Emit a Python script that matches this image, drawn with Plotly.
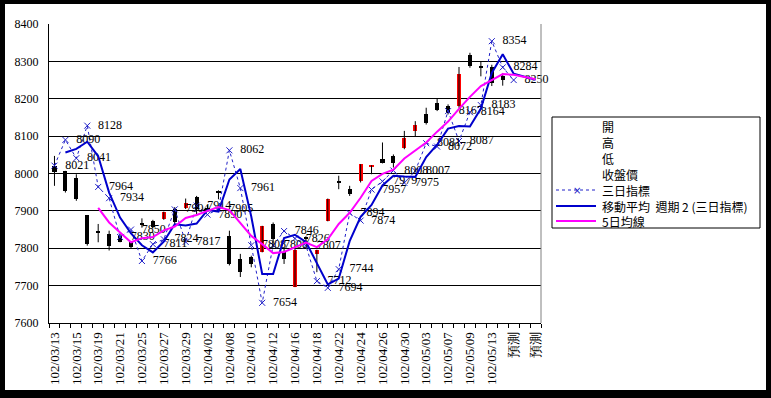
import plotly.graph_objects as go

dates = ["102/03/13", "102/03/14", "102/03/15", "102/03/18", "102/03/19", "102/03/20",
         "102/03/21", "102/03/22", "102/03/25", "102/03/26", "102/03/27", "102/03/28",
         "102/03/29", "102/04/01", "102/04/02", "102/04/03", "102/04/08", "102/04/09",
         "102/04/10", "102/04/11", "102/04/12", "102/04/15", "102/04/16", "102/04/17",
         "102/04/18", "102/04/19", "102/04/22", "102/04/23", "102/04/24", "102/04/25",
         "102/04/26", "102/04/29", "102/04/30", "102/05/02", "102/05/03", "102/05/06",
         "102/05/07", "102/05/08", "102/05/09", "102/05/10", "102/05/13", "102/05/14",
         "預測", "預測", "預測"]

open_ = [8020, 8007, 7989, 7889, 7845, 7838, 7834, 7816, 7867, 7874, 7878, 7905, 7909, 7936,
         7908, 7952, 7834, 7771, 7776, 7789, 7865, 7789, 7696, 7828, 7785, 7874, 7980, 7958,
         7980, 8019, 8038, 8047, 8069, 8114, 8158, 8189, 8180, 8180, 8318, 8287, 8285, 8260]
high = [8047, 8007, 7998, 7889, 7865, 7847, 7838, 7818, 7880, 7876, 7898, 7910, 7933, 7940,
        7915, 7955, 7847, 7785, 7780, 7860, 7869, 7798, 7798, 7832, 7796, 7933, 7994, 7967,
        8025, 8022, 8083, 8051, 8114, 8140, 8176, 8200, 8185, 8285, 8323, 8300, 8291, 8269]
low = [7967, 7949, 7927, 7807, 7816, 7794, 7816, 7800, 7855, 7853, 7876, 7865, 7905, 7891,
       7898, 7931, 7754, 7723, 7749, 7789, 7803, 7758, 7696, 7820, 7736, 7872, 7958, 7940,
       7976, 7998, 8027, 8016, 8065, 8099, 8131, 8167, 8158, 8176, 8283, 8260, 8234, 8235]
close = [8003, 7954, 7931, 7811, 7842, 7807, 7818, 7803, 7863, 7856, 7896, 7869, 7920, 7905,
         7903, 7948, 7758, 7736, 7758, 7859, 7825, 7771, 7795, 7825, 7794, 7931, 7976, 7945,
         8025, 8022, 8027, 8029, 8096, 8129, 8136, 8171, 8163, 8267, 8287, 8283, 8243, 8251]

three_day = [8021, 8090, 8041, 8128, 7964, 7934, 7830, 7850, 7766, 7811, 7824, 7904, 7817,
             7914, 7890, 7905, 8062, 7961, 7808, 7654, 7808, 7846, 7826, 7807, 7712, 7694,
             7744, 7894, 7874, 7957, 7979, 8008, 7975, 8007, 8081, 8072, 8167, 8087, 8164,
             8183, 8354, 8284, 8250]

ma2 = [None, 8056, 8066, 8085, 8046, 7949, 7882, 7840, 7808, 7789, 7818, 7864, 7861, 7866,
       7902, 7898, 7984, 8012, 7885, 7731, 7731, 7827, 7836, 7817, 7760, 7703, 7719, 7819,
       7884, 7916, 7968, 7994, 7992, 7991, 8044, 8077, 8120, 8127, 8126, 8174, 8269, 8319,
       8267, 8258, 8251]

ma5 = [None, None, None, None, 7908, 7869, 7842, 7816, 7827, 7830, 7848, 7858, 7881, 7889,
       7900, 7910, 7902, 7866, 7833, 7811, 7787, 7790, 7802, 7815, 7803, 7824, 7865, 7895,
       7935, 7980, 7999, 8010, 8040, 8061, 8083, 8112, 8139, 8173, 8205, 8234, 8249, 8266,
       8264, 8259, 8252]

y_ticks = [7600, 7700, 7800, 7900, 8000, 8100, 8200, 8300, 8400]

legend_names = ["開", "高", "低", "收盤價", "三日指標", "移動平均  週期 2 (三日指標)", "5日均線"]

DOT_BLUE = "#2020C8"
MA_BLUE = "#0000CC"
MAGENTA = "#FF00FF"

idx = list(range(len(dates)))
n_c = len(close)

fig = go.Figure()

# wicks
wx, wy = [], []
for i in range(n_c):
    wx += [idx[i], idx[i], None]
    wy += [low[i], high[i], None]
fig.add_trace(go.Scatter(x=wx, y=wy, mode="lines", line=dict(color="black", width=1),
                         showlegend=False, hoverinfo="skip"))

# bodies
base = [min(o, c) for o, c in zip(open_, close)]
hgt = [abs(c - o) for o, c in zip(open_, close)]
cols = ["#FF0000" if c > o else "#000000" for o, c in zip(open_, close)]
fig.add_trace(go.Bar(x=idx[:n_c], y=hgt, base=base, width=0.38,
                     marker=dict(color=cols, line=dict(width=0)),
                     showlegend=False, hoverinfo="skip"))

fig.add_trace(go.Scatter(x=idx[:len(three_day)], y=three_day, mode="lines+markers+text",
                         name=legend_names[4], cliponaxis=False,
                         line=dict(color=DOT_BLUE, width=1, dash="dot"),
                         marker=dict(symbol="x-thin", size=6,
                                     line=dict(width=1, color=DOT_BLUE), color=DOT_BLUE),
                         text=["\u00a0\u00a0" + str(v) for v in three_day],
                         textposition="middle right",
                         textfont=dict(family="Liberation Serif", size=12, color="black")))

fig.add_trace(go.Scatter(x=idx, y=ma2, mode="lines", name=legend_names[5],
                         line=dict(color=MA_BLUE, width=2)))

fig.add_trace(go.Scatter(x=idx, y=ma5, mode="lines", name=legend_names[6],
                         line=dict(color=MAGENTA, width=2)))

# layout geometry
L, R, T, B = 49, 230, 24, 75
W, H = 771, 398
pw, ph = W - L - R, H - T - B


def px2x(p):
    return (p - L) / pw


def py2y(p):
    return (H - B - p) / ph


shapes = []
shapes.append(dict(type="rect", xref="paper", yref="paper",
                   x0=px2x(5), x1=px2x(766), y0=py2y(390), y1=py2y(4),
                   fillcolor="white", line=dict(width=0), layer="below"))
shapes.append(dict(type="line", xref="paper", yref="paper", x0=1, x1=1, y0=0, y1=1,
                   line=dict(color="#808080", width=1)))

# custom legend box
lx0, lx1, ly0, ly1 = 552, 760, 117, 228
shapes.append(dict(type="rect", xref="paper", yref="paper",
                   x0=px2x(lx0), x1=px2x(lx1), y0=py2y(ly1), y1=py2y(ly0),
                   fillcolor="white", line=dict(color="black", width=1)))
row_y = [126, 142, 158, 174, 190, 206, 221]
annotations = []
for name, ry in zip(legend_names, row_y):
    annotations.append(dict(xref="paper", yref="paper", x=px2x(600), y=py2y(ry),
                            xanchor="left", yanchor="middle", text=name, showarrow=False,
                            font=dict(family="Noto Sans CJK TC", size=12, color="black")))
sample_styles = [(DOT_BLUE, 1, "dot"), (MA_BLUE, 2, "solid"), (MAGENTA, 2, "solid")]
for (c, w, d), ry in zip(sample_styles, row_y[4:]):
    shapes.append(dict(type="line", xref="paper", yref="paper",
                       x0=px2x(556), x1=px2x(596), y0=py2y(ry), y1=py2y(ry),
                       line=dict(color=c, width=w, dash=d)))
annotations.append(dict(xref="paper", yref="paper", x=px2x(577), y=py2y(row_y[4]),
                        xanchor="center", yanchor="middle", text="×", showarrow=False,
                        font=dict(family="DejaVu Sans", size=10, color=DOT_BLUE)))

fig.update_layout(
    width=W, height=H,
    margin=dict(l=L, r=R, t=T, b=B),
    paper_bgcolor="black", plot_bgcolor="white",
    bargap=0,
    showlegend=False,
    hovermode=False,
    shapes=shapes,
    annotations=annotations,
    font=dict(family="Liberation Serif", color="black"),
)

fig.update_xaxes(range=[-0.5, len(dates) - 0.5], tickmode="array",
                 tickvals=idx[::2], ticktext=dates[::2], tickangle=-90,
                 tickfont=dict(family="Liberation Serif", size=13, color="black"),
                 showgrid=False, zeroline=False, showline=True, linecolor="black",
                 linewidth=1, ticks="", ticklabelstandoff=3,
                 minor=dict(tickmode="linear", tick0=-0.5, dtick=1, ticks="outside",
                            ticklen=4, tickcolor="black", showgrid=False))

fig.update_yaxes(range=[7600, 8400], tickmode="array", tickvals=y_ticks,
                 tickfont=dict(family="Liberation Serif", size=12, color="black"),
                 showgrid=True, gridcolor="black", gridwidth=1, zeroline=False,
                 showline=True, linecolor="black", linewidth=1, ticks="",
                 ticklabelstandoff=7)

fig.write_html("out.html", config={"displayModeBar": False},
               post_script="document.body.style.margin='0px';"
                           "document.body.style.overflow='hidden';")
